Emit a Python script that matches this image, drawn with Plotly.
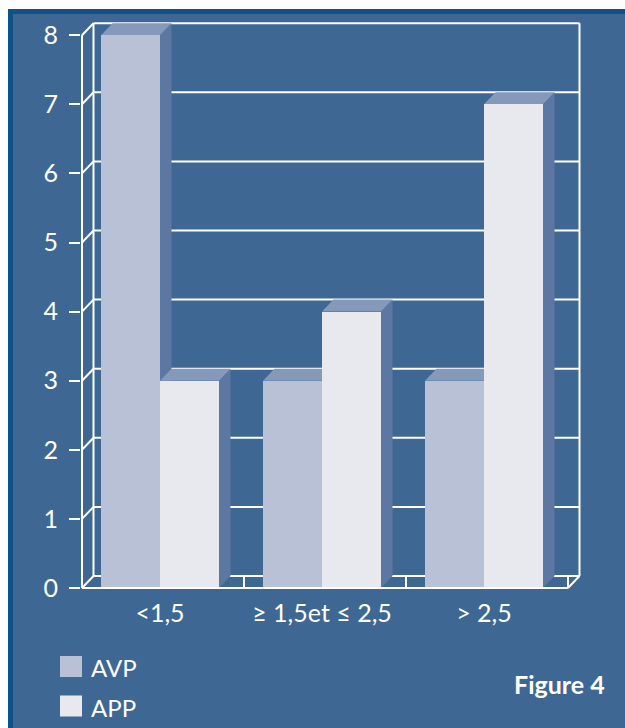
import plotly.graph_objects as go

# ---- data ----
categories = ["<1,5", "≥ 1,5et ≤ 2,5", "> 2,5"]
series_names = ["AVP", "APP"]
avp_values = [8, 3, 3]
app_values = [3, 4, 7]
y_ticks = [0, 1, 2, 3, 4, 5, 6, 7, 8]

# ---- styling / geometry ----
W, H = 625, 728
BG = "#3e6893"
BORDER = "#0f5186"
FRONT = ["#b8c1d6", "#e8e9ef"]
SIDE = "#5c77a1"
TOP = "#8599bb"
FONT = "Lato"

UX = 162.0   # px per x unit
UY = 69.1    # px per y unit
L, R, T, B = 81, 41, 20, 138
PW = W - L - R
PH = H - T - B
x0 = -0.5 - 1 / UX
xr = [x0, x0 + PW / UX]
y0 = -2 / UY
yr = [y0, y0 + PH / UY]
DX = 11.5 / UX
DY = 12 / UY
BW = 59 / UX          # bar width (data units)
SHIFT = -3 / UX       # bars slightly left of category centre
YMAX = max(y_ticks)
NCAT = len(categories)

centers = [i + SHIFT for i in range(NCAT)]

fig = go.Figure()
series = [avp_values, app_values]
for s, (name, vals) in enumerate(zip(series_names, series)):
    xs = [c - BW / 2 + s * BW for c in centers]
    fig.add_trace(go.Bar(x=xs, y=vals, width=BW, name=name,
                         marker=dict(color=FRONT[s], line=dict(width=0)),
                         showlegend=False, hoverinfo="skip"))

shapes = []
LW = 2
white = dict(color="white", width=LW)
# back wall grid lines & edges
for k in y_ticks:
    shapes.append(dict(type="line", xref="x", yref="y", layer="below",
                       x0=-0.5 + DX, x1=NCAT - 0.5 + DX, y0=k + DY, y1=k + DY, line=white))
shapes.append(dict(type="line", xref="x", yref="y", layer="below",
                   x0=-0.5 + DX, x1=-0.5 + DX, y0=DY, y1=YMAX + DY, line=white))
shapes.append(dict(type="line", xref="x", yref="y", layer="below",
                   x0=NCAT - 0.5 + DX, x1=NCAT - 0.5 + DX, y0=DY, y1=YMAX + DY, line=white))

# 3D faces of bars
for i in range(NCAT):
    for s, vals in enumerate(series):
        v = vals[i]
        xl = centers[i] - BW + s * BW
        xrr = xl + BW
        side = f"M{xrr},0 L{xrr + DX},{DY} L{xrr + DX},{v + DY} L{xrr},{v} Z"
        top = f"M{xl},{v} L{xl + DX},{v + DY} L{xrr + DX},{v + DY} L{xrr},{v} Z"
        shapes.append(dict(type="path", xref="x", yref="y", layer="below", path=side,
                           fillcolor=SIDE, line=dict(width=0)))
        shapes.append(dict(type="path", xref="x", yref="y", layer="below", path=top,
                           fillcolor=TOP, line=dict(width=0)))

# front frame lines
shapes.append(dict(type="line", xref="x", yref="y", x0=-0.5, x1=-0.5, y0=0, y1=YMAX, line=white))
shapes.append(dict(type="line", xref="x", yref="y", x0=-0.5, x1=NCAT - 0.5, y0=0, y1=0, line=white))
for k in y_ticks:
    shapes.append(dict(type="line", xref="x", yref="y", x0=-0.5, x1=-0.5 + DX,
                       y0=k, y1=k + DY, line=white))
shapes.append(dict(type="line", xref="x", yref="y", x0=NCAT - 0.5, x1=NCAT - 0.5 + DX,
                   y0=0, y1=DY, line=white))
for i in range(1, NCAT + 1):
    shapes.append(dict(type="line", xref="x", yref="y", x0=i - 0.5, x1=i - 0.5,
                       y0=0, y1=DY, line=white))

# page frame (paper coords)
def px(x):
    return (x - L) / PW

def py(y):
    return (H - B - y) / PH

shapes.append(dict(type="rect", xref="paper", yref="paper", x0=px(0), x1=px(W), y0=py(9), y1=py(-1),
                   fillcolor="white", line=dict(width=0)))
shapes.append(dict(type="rect", xref="paper", yref="paper", x0=px(-1), x1=px(8), y0=py(H + 1), y1=py(-1),
                   fillcolor="white", line=dict(width=0)))
shapes.append(dict(type="rect", xref="paper", yref="paper", x0=px(8), x1=px(W + 1), y0=py(14), y1=py(9),
                   fillcolor=BORDER, line=dict(width=0)))
shapes.append(dict(type="rect", xref="paper", yref="paper", x0=px(8), x1=px(13), y0=py(H + 1), y1=py(9),
                   fillcolor=BORDER, line=dict(width=0)))

# legend
annotations = []
leg_y = [666.5, 706]
for s, name in enumerate(series_names):
    shapes.append(dict(type="rect", xref="paper", yref="paper", x0=px(60), x1=px(82),
                       y0=py(leg_y[s] + 10.5), y1=py(leg_y[s] - 10.5),
                       fillcolor=FRONT[s], line=dict(width=0)))
    annotations.append(dict(xref="paper", yref="paper", x=px(89), y=py(leg_y[s] + 1),
                            text=name, showarrow=False, xanchor="left", yanchor="middle",
                            font=dict(family=FONT, size=24, color="white")))

annotations.append(dict(xref="paper", yref="paper", x=px(607), y=py(684),
                        text="<b>Figure 4</b>", showarrow=False, xanchor="right", yanchor="middle",
                        font=dict(family=FONT, size=25, color="white")))

fig.update_layout(
    width=W, height=H,
    margin=dict(l=L, r=R, t=T, b=B, pad=0),
    paper_bgcolor=BG, plot_bgcolor=BG,
    barmode="overlay", bargap=0,
    shapes=shapes, annotations=annotations,
    xaxis=dict(range=xr, tickmode="array", tickvals=centers, ticktext=categories,
               showgrid=False, zeroline=False, showline=False, ticks="",
               tickfont=dict(family=FONT, size=25, color="white"), ticklabelstandoff=6),
    yaxis=dict(range=yr, tickmode="array", tickvals=y_ticks, ticktext=[str(v) for v in y_ticks],
               showgrid=False, zeroline=False, showline=False, ticks="outside",
               ticklen=11, tickwidth=2, tickcolor="white",
               tickfont=dict(family=FONT, size=25, color="white"), ticklabelstandoff=6),
    showlegend=False,
)

fig.write_html("out.html")
